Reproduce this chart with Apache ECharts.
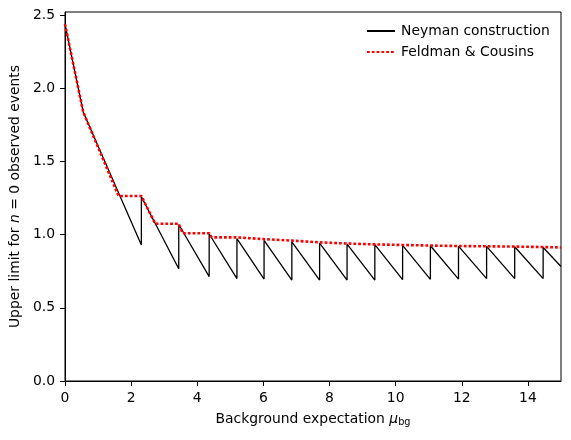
<!DOCTYPE html>
<html>
<head>
<meta charset="utf-8">
<script src="https://cdn.jsdelivr.net/npm/echarts@6/dist/echarts.min.js"></script>
<style>html,body{margin:0;padding:0;background:#fff}#c{width:571px;height:440px}</style>
</head>
<body>
<div id="c"></div>
<script>
// Neyman construction (sawtooth) — vertical jumps repeat the x value
const neymanX = [0, 0.55, 2.31, 2.31, 3.44, 3.44, 4.36, 4.36, 5.20, 5.20, 6.02, 6.02, 6.86, 6.86, 7.70, 7.70, 8.53, 8.53, 9.37, 9.37, 10.21, 10.21, 11.05, 11.05, 11.90, 11.90, 12.75, 12.75, 13.60, 13.60, 14.46, 14.46, 15];
const neymanY = [2.44, 1.84, 0.93, 1.26, 0.767, 1.07, 0.714, 1.005, 0.70, 0.973, 0.697, 0.961, 0.69, 0.952, 0.69, 0.943, 0.69, 0.936, 0.69, 0.932, 0.693, 0.927, 0.695, 0.925, 0.697, 0.922, 0.70, 0.92, 0.70, 0.918, 0.70, 0.913, 0.783];
// Feldman & Cousins
const fcX = [0, 0.55, 1.62, 2.31, 2.73, 3.44, 3.44, 3.56, 4.36, 4.36, 4.44, 5.20, 5.20, 6.02, 6.02, 6.86, 6.86, 7.70, 7.70, 8.53, 8.53, 9.37, 9.37, 10.21, 10.21, 11.05, 11.05, 11.90, 11.90, 12.75, 12.75, 13.60, 13.60, 14.46, 14.46, 15];
const fcY = [2.44, 1.84, 1.265, 1.265, 1.075, 1.075, 1.07, 1.01, 1.01, 1.005, 0.982, 0.982, 0.97, 0.97, 0.96, 0.96, 0.948, 0.948, 0.94, 0.94, 0.934, 0.934, 0.93, 0.93, 0.926, 0.926, 0.923, 0.923, 0.921, 0.921, 0.919, 0.919, 0.916, 0.916, 0.913, 0.913];
const xTicks = [0, 2, 4, 6, 8, 10, 12, 14];
const yTicks = [0.0, 0.5, 1.0, 1.5, 2.0, 2.5];

const FONT = 'DejaVu Sans';
const chart = echarts.init(document.getElementById('c'), null, {renderer: 'canvas'});
chart.setOption({
  animation: false,
  backgroundColor: '#fff',
  textStyle: {fontFamily: FONT},
  grid: {left: 65, right: 10, top: 12, bottom: 59, show: true, borderColor: '#000', borderWidth: 1, backgroundColor: 'transparent'},
  legend: {
    orient: 'vertical', left: 361, top: 19, itemWidth: 28, itemHeight: 14, itemGap: 7,
    itemStyle: {color: 'rgba(0,0,0,0)', borderWidth: 0, opacity: 0},
    textStyle: {fontFamily: FONT, fontSize: 13.9, color: '#000', padding: [0, 0, 0, 1]},
    data: ['Neyman construction', 'Feldman & Cousins']
  },
  xAxis: {
    type: 'value', min: 0, max: 15, interval: 2,
    axisLine: {show: true, lineStyle: {color: '#000', width: 1}},
    axisTick: {show: true, length: 5, lineStyle: {color: '#000'}, customValues: xTicks},
    axisLabel: {show: true, color: '#000', fontSize: 13.9, fontFamily: FONT, margin: 10, customValues: xTicks, formatter: v => String(v)},
    splitLine: {show: false},
    name: 'Background expectation {i|μ}{s|bg}',
    nameLocation: 'middle', nameGap: 30,
    nameTextStyle: {color: '#000', fontSize: 13.9, fontFamily: FONT,
      rich: {i: {fontStyle: 'italic', fontSize: 13.9, fontFamily: FONT, color: '#000'},
             s: {fontSize: 9.7, fontFamily: FONT, color: '#000', verticalAlign: 'bottom', padding: [6, 0, 0, 0]}}}
  },
  yAxis: {
    type: 'value', min: 0, max: 2.523, interval: 0.5,
    axisLine: {show: true, lineStyle: {color: '#000', width: 1}},
    axisTick: {show: true, length: 5, lineStyle: {color: '#000'}, customValues: yTicks},
    axisLabel: {show: true, color: '#000', fontSize: 13.9, fontFamily: FONT, margin: 10, customValues: yTicks, formatter: v => v.toFixed(1)},
    splitLine: {show: false},
    name: 'Upper limit for {i|n} = 0 observed events',
    nameLocation: 'middle', nameGap: 40, nameRotate: 90,
    nameTextStyle: {color: '#000', fontSize: 13.9, fontFamily: FONT,
      rich: {i: {fontStyle: 'italic', fontSize: 13.9, fontFamily: FONT, color: '#000'}}}
  },
  series: [
    {name: 'Neyman construction', type: 'line', symbol: 'none', data: neymanX.map((x, i) => [x, neymanY[i]]),
     lineStyle: {color: '#000', width: 1.3}, itemStyle: {color: '#000'}, z: 2},
    {name: 'Feldman & Cousins', type: 'line', symbol: 'none', data: fcX.map((x, i) => [x, fcY[i]]),
     lineStyle: {color: '#ff0000', width: 2.6, type: [2.8, 2.0]}, itemStyle: {color: '#ff0000'}, z: 3}
  ]
});
</script>
</body>
</html>
